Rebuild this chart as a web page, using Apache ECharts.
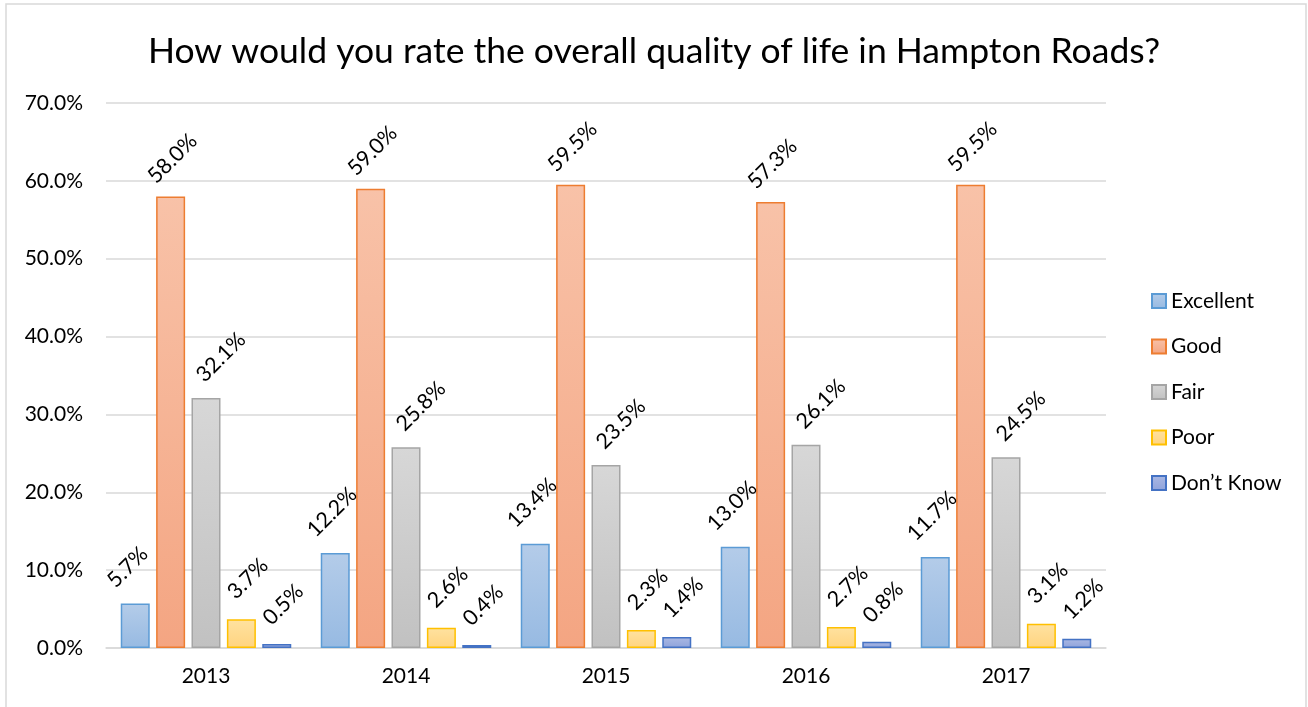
<!DOCTYPE html>
<html>
<head>
<meta charset="utf-8">
<script src="https://cdn.jsdelivr.net/npm/echarts@6/dist/echarts.min.js"></script>
<style>
html,body{margin:0;padding:0;background:#fff;}
#c{width:1308px;height:707px;}
</style>
</head>
<body>
<div id="c"></div>
<script>
var years = ['2013', '2014', '2015', '2016', '2017'];
var excellent = [5.7, 12.2, 13.4, 13.0, 11.7];
var good = [58.0, 59.0, 59.5, 57.3, 59.5];
var fair = [32.1, 25.8, 23.5, 26.1, 24.5];
var poor = [3.7, 2.6, 2.3, 2.7, 3.1];
var dontKnow = [0.5, 0.4, 1.4, 0.8, 1.2];
var seriesNames = ['Excellent', 'Good', 'Fair', 'Poor', 'Don\u2019t Know'];
var yTicks = [0, 10, 20, 30, 40, 50, 60, 70];

var FONT = 'Lato';
var styles = [
  {top: '#b4cce9', bottom: '#97bae2', border: '#5b9bd5', pos: [-2, -12]},
  {top: '#f8c2a8', bottom: '#f4a582', border: '#ed7d31', pos: [3, -9]},
  {top: '#d7d7d7', bottom: '#c1c1c1', border: '#a5a5a5', pos: [16, -12]},
  {top: '#ffe2a0', bottom: '#ffd480', border: '#ffc000', pos: [12, -16]},
  {top: '#aab8e3', bottom: '#8fa3db', border: '#4472c4', pos: [12, -15]}
];
var dataSets = [excellent, good, fair, poor, dontKnow];

var series = dataSets.map(function (d, i) {
  var s = styles[i];
  return {
    name: seriesNames[i],
    type: 'bar',
    data: d,
    barWidth: 29,
    barGap: '22%',
    itemStyle: {
      color: {type: 'linear', x: 0, y: 0, x2: 0, y2: 1,
        colorStops: [{offset: 0, color: s.top}, {offset: 1, color: s.bottom}]},
      borderColor: s.border,
      borderWidth: 1.5
    },
    label: {
      show: true,
      position: s.pos,
      rotate: 45,
      align: 'left',
      verticalAlign: 'bottom',
      fontFamily: FONT,
      fontSize: 21.5,
      color: '#000',
      formatter: function (p) { return p.value.toFixed(1) + '%'; }
    }
  };
});

var chart = echarts.init(document.getElementById('c'), null, {renderer: 'canvas'});
chart.setOption({
  animation: false,
  backgroundColor: '#fff',
  title: {
    text: 'How would you rate the overall quality of life in Hampton Roads?',
    left: 'center',
    top: 29,
    textStyle: {fontFamily: FONT, fontSize: 35.5, fontWeight: 'normal', color: '#000'}
  },
  graphic: [{
    type: 'rect',
    shape: {x: 6, y: 4, width: 1300, height: 720},
    style: {fill: 'none', stroke: '#d9d9d9', lineWidth: 1.5},
    silent: true
  }],
  legend: {
    orient: 'vertical',
    left: 1146,
    top: 285,
    itemWidth: 14,
    itemHeight: 14,
    itemGap: 23.5,
    icon: 'rect',
    textStyle: {fontFamily: FONT, fontSize: 21, color: '#000', lineHeight: 22},
    data: seriesNames
  },
  grid: {left: 106, right: 202, top: 103, bottom: 59},
  xAxis: {
    type: 'category',
    data: years,
    axisLine: {lineStyle: {color: '#d9d9d9', width: 1.5}},
    axisTick: {show: false},
    axisLabel: {fontFamily: FONT, fontSize: 21, color: '#000', margin: 18}
  },
  yAxis: {
    type: 'value',
    min: yTicks[0],
    max: yTicks[yTicks.length - 1],
    interval: 10,
    axisLine: {show: false},
    axisTick: {show: false},
    splitLine: {lineStyle: {color: '#d9d9d9', width: 1.5}},
    axisLabel: {fontFamily: FONT, fontSize: 21, color: '#000', margin: 23,
      formatter: function (v) { return v.toFixed(1) + '%'; }}
  },
  series: series
});
</script>
</body>
</html>
